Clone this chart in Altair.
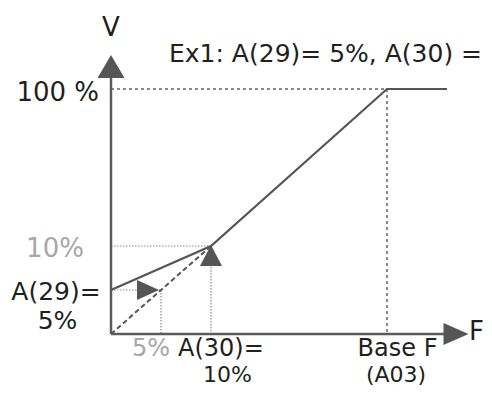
import altair as alt
import pandas as pd

# Diagram coordinates (F horizontal, V vertical), schematic units
curve_x = [0, 10, 27.6, 33.6]          # start, A(30)=10%, Base F, end
curve_y = [4.4, 8.8, 24.5, 24.5]        # A(29)=5%, 10%, 100%, 100%

dash_x = [0, 10]                         # proportional (dashed) line
dash_y = [0, 8.8]

# axis lines
axis_x1 = [0, 0]
axis_y1 = [0, 0]
axis_x2 = [0, 33.3]
axis_y2 = [25.6, 0]

# strong dotted guides (100 % and Base F)
g1_x1 = [0, 27.6]
g1_y1 = [24.5, 24.5]
g1_x2 = [27.6, 27.6]
g1_y2 = [24.5, 0]

# light dotted guides (10 %, 5 %)
g2_x1 = [0, 10, 0, 5]
g2_y1 = [8.8, 8.8, 4.4, 4.4]
g2_x2 = [10, 10, 5, 5]
g2_y2 = [8.8, 0, 4.4, 0]

# arrow heads
arrow_x = [0, 34.5, 3.7, 10]
arrow_y = [26.75, 0, 4.4, 7.85]
arrow_shape = ["M0,-0.85L-1,0.85L1,0.85Z",
               "M1,0L-1,-0.88L-1,0.88Z",
               "M1,0L-1,-0.9L-1,0.9Z",
               "M0,-0.95L-1,0.95L1,0.95Z"]
arrow_size = [729, 625, 484, 484]

# labels
labels = ["V", "Ex1: A(29)= 5%, A(30) =", "100 %", "10%", "A(29)=", "5%",
          "5%", "A(30)=", "10%", "Base F", "(A03)", "F"]
label_x = [0, 5.8, -1.2, -5.6, -5.5, -5.35, 2.1, 6.7, 11.65, 28.65, 28.5, 35.8]
label_y = [29.8, 27.2, 23.3, 7.7, 3.4, 0.5, -2.2, -2.2, -4.8, -2.2, -4.8, -0.6]
label_size = [26, 25, 26, 26, 25, 25, 24, 24, 22, 24, 22, 26]
label_align = ["center", "left", "right", "center", "center", "center",
               "left", "left", "center", "center", "center", "left"]
label_color = ["#231f20", "#231f20", "#231f20", "#a7a7a7", "#231f20", "#231f20",
               "#a7a7a7", "#231f20", "#231f20", "#231f20", "#231f20", "#231f20"]

XS = alt.Scale(domain=[-10.3, 37.3], nice=False, zero=False)
YS = alt.Scale(domain=[-5.2, 32.6], nice=False, zero=False)
X = lambda f: alt.X(f, type="quantitative", scale=XS, axis=None)
Y = lambda f: alt.Y(f, type="quantitative", scale=YS, axis=None)


def segs(x1, y1, x2, y2):
    return pd.DataFrame({"x": x1, "y": y1, "x2": x2, "y2": y2})


axes = alt.Chart(segs(axis_x1, axis_y1, axis_x2, axis_y2)).mark_rule(
    color="#5a5a5a", strokeWidth=2.5
).encode(x=X("x"), y=Y("y"), x2="x2", y2="y2")

guides1 = alt.Chart(segs(g1_x1, g1_y1, g1_x2, g1_y2)).mark_rule(
    color="#666666", strokeWidth=1.5, strokeDash=[3, 3]
).encode(x=X("x"), y=Y("y"), x2="x2", y2="y2")

guides2 = alt.Chart(segs(g2_x1, g2_y1, g2_x2, g2_y2)).mark_rule(
    color="#8a8a8a", strokeWidth=1.2, strokeDash=[1.5, 1.5]
).encode(x=X("x"), y=Y("y"), x2="x2", y2="y2")

dashed = alt.Chart(pd.DataFrame({"x": dash_x, "y": dash_y})).mark_line(
    color="#555555", strokeWidth=2, strokeDash=[5, 3]
).encode(x=X("x"), y=Y("y"))

curve = alt.Chart(pd.DataFrame({"x": curve_x, "y": curve_y, "o": range(4)})).mark_line(
    color="#555555", strokeWidth=2.2
).encode(x=X("x"), y=Y("y"), order="o:Q")

arrows = alt.Chart(pd.DataFrame({"x": arrow_x, "y": arrow_y, "shape": arrow_shape,
                                 "size": arrow_size})).mark_point(
    filled=True, color="#555555", opacity=1, strokeWidth=0
).encode(x=X("x"), y=Y("y"),
         shape=alt.Shape("shape:N", scale=None),
         size=alt.Size("size:Q", scale=None))

tdf = pd.DataFrame({"x": label_x, "y": label_y, "label": labels, "fs": label_size,
                    "align": label_align, "color": label_color})
texts = []
for al in ["left", "center", "right"]:
    texts.append(
        alt.Chart(tdf[tdf["align"] == al]).mark_text(
            align=al, baseline="alphabetic", font="DejaVu Sans"
        ).encode(x=X("x"), y=Y("y"), text="label:N",
                 size=alt.Size("fs:Q", scale=None),
                 color=alt.Color("color:N", scale=None))
    )

chart = alt.layer(guides1, guides2, dashed, curve, axes, arrows, *texts).properties(
    width=476, height=378, autosize=alt.AutoSizeParams(type="none"), padding=0
).configure_view(stroke=None)

chart.save("out.html", embed_options={"renderer": "svg", "actions": False})
